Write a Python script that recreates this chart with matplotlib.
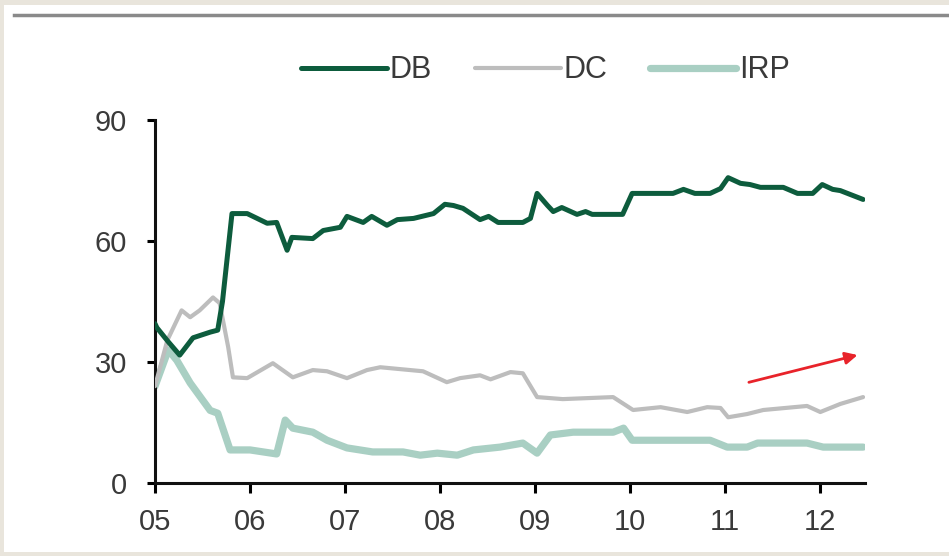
import matplotlib.pyplot as plt
from matplotlib.patches import Rectangle
from matplotlib.lines import Line2D

plt.rcParams['font.family'] = ['Liberation Sans', 'DejaVu Sans']

# time in years, share in %
db_t = [2005.00, 2005.02, 2005.14, 2005.26, 2005.40, 2005.58, 2005.66, 2005.71, 2005.81, 2005.97,
        2006.18, 2006.28, 2006.39, 2006.44, 2006.66, 2006.77, 2006.95, 2007.02, 2007.19, 2007.28,
        2007.44, 2007.55, 2007.72, 2007.93, 2008.05, 2008.14, 2008.24, 2008.42, 2008.51, 2008.61,
        2008.87, 2008.95, 2009.02, 2009.13, 2009.19, 2009.28, 2009.44, 2009.53, 2009.60, 2009.92,
        2010.02, 2010.45, 2010.56, 2010.68, 2010.84, 2010.95, 2011.03, 2011.16, 2011.26, 2011.37,
        2011.61, 2011.76, 2011.92, 2012.02, 2012.13, 2012.21, 2012.45]
db_v = [39.5, 38.5, 35.0, 31.7, 36.0, 37.4, 37.9, 45.0, 66.8, 66.8,
        64.4, 64.6, 57.7, 60.9, 60.6, 62.6, 63.4, 66.1, 64.6, 66.1,
        63.9, 65.3, 65.6, 66.8, 69.1, 68.8, 68.1, 65.3, 66.1, 64.6,
        64.6, 65.6, 71.8, 68.8, 67.3, 68.3, 66.6, 67.3, 66.6, 66.6,
        71.8, 71.8, 72.8, 71.8, 71.8, 73.0, 75.7, 74.3, 74.0, 73.3,
        73.3, 71.8, 71.8, 74.0, 72.8, 72.5, 70.3]

dc_t = [2005.00, 2005.13, 2005.28, 2005.37, 2005.47, 2005.61, 2005.68, 2005.77, 2005.82, 2005.97,
        2006.24, 2006.45, 2006.66, 2006.81, 2007.02, 2007.23, 2007.37, 2007.82, 2008.07, 2008.21,
        2008.42, 2008.53, 2008.74, 2008.87, 2009.02, 2009.29, 2009.82, 2010.03, 2010.32, 2010.60,
        2010.81, 2010.95, 2011.03, 2011.23, 2011.40, 2011.86, 2012.00, 2012.21, 2012.45]
dc_v = [24.0, 35.4, 42.8, 41.1, 42.8, 46.0, 44.6, 33.7, 26.2, 26.0,
        29.7, 26.2, 28.0, 27.7, 26.0, 28.0, 28.7, 27.7, 25.0, 26.0,
        26.7, 25.7, 27.5, 27.2, 21.3, 20.8, 21.3, 18.1, 18.8, 17.6,
        18.8, 18.6, 16.3, 17.1, 18.1, 19.1, 17.6, 19.6, 21.3]

irp_t = [2005.00, 2005.14, 2005.23, 2005.37, 2005.58, 2005.66, 2005.79, 2006.00, 2006.28, 2006.37,
         2006.45, 2006.66, 2006.81, 2007.02, 2007.29, 2007.61, 2007.79, 2007.97, 2008.18, 2008.35,
         2008.63, 2008.87, 2009.02, 2009.16, 2009.40, 2009.82, 2009.93, 2010.02, 2010.84, 2011.02,
         2011.23, 2011.34, 2011.86, 2012.03, 2012.45]
irp_v = [24.0, 33.0, 30.4, 24.8, 18.0, 17.3, 8.2, 8.2, 7.2, 15.6,
         13.6, 12.6, 10.6, 8.7, 7.7, 7.7, 6.9, 7.4, 6.9, 8.2,
         8.9, 9.9, 7.4, 11.9, 12.6, 12.6, 13.6, 10.6, 10.6, 8.9,
         8.9, 9.9, 9.9, 8.9, 8.9]

years = [2005, 2006, 2007, 2008, 2009, 2010, 2011, 2012]
year_labels = ['05', '06', '07', '08', '09', '10', '11', '12']
y_ticks = [0, 30, 60, 90]

# red trend arrow (start, end) in data units
arrow_start = (2011.22, 24.8)
arrow_end = (2012.42, 31.9)

fig = plt.figure(figsize=(9.49, 5.56), dpi=100, facecolor='#e9e5dc')
# white panel and grey rule of the slide
fig.add_artist(Rectangle((4 / 949, 4 / 556), 1, (552 - 5) / 556, transform=fig.transFigure,
                         facecolor='white', edgecolor='none', zorder=0))
fig.add_artist(Line2D([14 / 949, 1], [1 - 15 / 556, 1 - 15 / 556], transform=fig.transFigure,
                      color='#8a8a8a', lw=2.5, zorder=1))

ax = fig.add_axes([155 / 949, 73 / 556, 710 / 949, 363 / 556])
ax.set_facecolor('none')

ax.plot(irp_t, irp_v, color='#a9cfc3', lw=5.2, label='IRP', solid_capstyle='round', zorder=2)
ax.plot(dc_t, dc_v, color='#bdbdbd', lw=3.0, label='DC', solid_capstyle='round', zorder=3)
ax.plot(db_t, db_v, color='#0d5c3d', lw=3.6, label='DB', solid_capstyle='round', zorder=4)

ax.annotate('', xy=arrow_end, xytext=arrow_start,
            arrowprops=dict(arrowstyle='-|>', color='#e8232a', lw=2, mutation_scale=18))

ax.set_xlim(2005, 2012.47)
ax.set_ylim(0, 90)
ax.set_xticks(years)
ax.set_xticklabels(year_labels)
ax.set_yticks(y_ticks)
for s in ['top', 'right']:
    ax.spines[s].set_visible(False)
for s in ['left', 'bottom']:
    ax.spines[s].set_linewidth(2.2)
    ax.spines[s].set_color('#111111')
ax.tick_params(axis='x', direction='out', length=7, width=2.2, pad=11, labelsize=21, labelcolor='#3a3a3a')
ax.tick_params(axis='y', direction='out', length=6, width=2.2, pad=14, labelsize=21, labelcolor='#3a3a3a')

handles, labels = ax.get_legend_handles_labels()
order = [2, 1, 0]
ax.legend([handles[i] for i in order], [labels[i] for i in order], ncol=3, frameon=False,
          loc='lower center', bbox_to_anchor=(0.55, 1.02), fontsize=22,
          handlelength=2.8, handletextpad=0.1, columnspacing=1.4, labelcolor='#3a3a3a')

fig.savefig('out.png', dpi=100, facecolor=fig.get_facecolor())
